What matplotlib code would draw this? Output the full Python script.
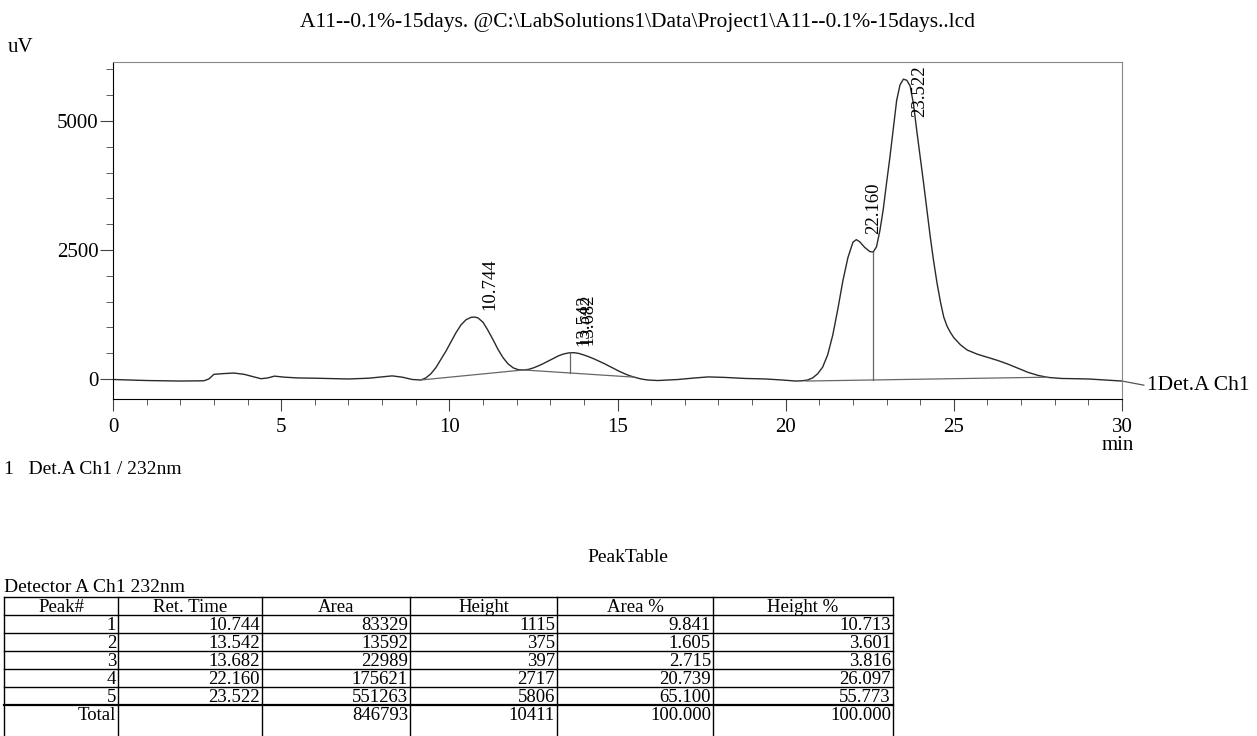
import numpy as np
import matplotlib.pyplot as plt
from matplotlib.ticker import MultipleLocator

plt.rcParams['font.family'] = ['Liberation Serif', 'DejaVu Serif']

# chromatogram trace (min, uV)
time_min = [0, 1, 2, 2.7, 2.85, 3.0, 3.3, 3.6, 3.9, 4.2, 4.4, 4.6, 4.8, 5.1, 5.5,
            6.0, 7.0, 7.6, 8.0, 8.3, 8.6, 8.9, 9.15, 9.3, 9.45, 9.6, 9.75, 9.9,
            10.05, 10.2, 10.35, 10.5, 10.65, 10.75, 10.85, 11.0, 11.15, 11.3,
            11.45, 11.6, 11.75, 11.9, 12.05, 12.2, 12.35, 12.5, 12.65, 12.8,
            12.95, 13.1, 13.25, 13.4, 13.55, 13.7, 13.85, 14.0, 14.15, 14.3,
            14.45, 14.6, 14.75, 14.9, 15.05, 15.2, 15.35, 15.5, 15.7, 15.9, 16.2,
            16.8, 17.3, 17.7, 18.2, 18.8, 19.4, 19.9, 20.3, 20.5, 20.65, 20.8,
            20.95, 21.1, 21.25, 21.4, 21.55, 21.7, 21.85, 22.0, 22.1, 22.2, 22.35,
            22.5, 22.6, 22.7, 22.8, 22.9, 23.0, 23.1, 23.2, 23.3, 23.4, 23.5,
            23.6, 23.7, 23.8, 23.9, 24.0, 24.1, 24.2, 24.3, 24.4, 24.5, 24.6,
            24.7, 24.8, 24.9, 25.0, 25.2, 25.4, 25.7, 26.0, 26.3, 26.6, 26.9,
            27.2, 27.5, 27.8, 28.2, 29.0, 30.0]
signal_uv = [-10, -30, -40, -35, 0, 90, 105, 115, 90, 40, 5, 20, 55, 35, 20,
             15, 0, 15, 40, 60, 35, -10, -20, 20, 100, 220, 380, 540,
             720, 900, 1050, 1150, 1195, 1200, 1185, 1100, 940, 760,
             570, 410, 290, 215, 180, 175, 185, 215, 255, 300,
             350, 400, 450, 485, 505, 510, 495, 465, 430, 390,
             345, 300, 250, 200, 150, 105, 65, 35, 0, -20, -30,
             -10, 20, 40, 30, 10, 0, -20, -40, -35, -20, 20,
             100, 230, 470, 850, 1350, 1900, 2350, 2650, 2700, 2660, 2550,
             2470, 2460, 2560, 2870, 3280, 3800, 4300, 4850, 5400, 5700, 5810,
             5790, 5680, 5330, 4800, 4300, 3800, 3280, 2750, 2280, 1860, 1500,
             1200, 1020, 900, 800, 660, 560, 480, 420, 360, 290, 210,
             130, 70, 30, 10, 0, -40]

# integration baselines and drop lines
base_t = [[9.15, 12.2], [12.2, 15.5], [20.6, 27.8]]
base_v = [[-20, 175], [175, 35], [-40, 35]]
drop_t = [13.59, 22.59]

# peak table
peak_no = ['1', '2', '3', '4', '5']
ret_time = [10.744, 13.542, 13.682, 22.160, 23.522]
area = [83329, 13592, 22989, 175621, 551263]
height = [1115, 375, 397, 2717, 5806]
area_pct = [9.841, 1.605, 2.715, 20.739, 65.100]
height_pct = [10.713, 3.601, 3.816, 26.097, 55.773]
totals = ['Total', '', '846793', '10411', '100.000', '100.000']
headers = ['Peak#', 'Ret. Time', 'Area', 'Height', 'Area %', 'Height %']

W, H = 1257, 736
fig = plt.figure(figsize=(W / 100, H / 100), dpi=100)


def fx(px):
    return px / W


def fy(py):
    return 1 - py / H


ax = fig.add_axes([fx(113), fy(399), fx(1122 - 113), (399 - 62) / H])
ymin, ymax = -388, 6143
ax.set_xlim(0, 30)
ax.set_ylim(ymin, ymax)

ax.plot(time_min, signal_uv, color='#2a2a2a', lw=1.0)
for bt, bv in zip(base_t, base_v):
    ax.plot(bt, bv, color='#666666', lw=0.9)
for t in drop_t:
    for bt, bv in zip(base_t, base_v):
        if bt[0] <= t <= bt[1]:
            b = np.interp(t, bt, bv)
    ax.plot([t, t], [b, np.interp(t, time_min, signal_uv)], color='#666666', lw=0.9)

# connector to channel label outside the box
ax.plot([30, 30.65], [signal_uv[-1], -120], color='#555555', lw=0.9, clip_on=False)
ax.text(30.75, -120, '1Det.A Ch1', fontsize=15.5, va='center', ha='left')

# peak retention time labels
for rt in ret_time:
    top = np.interp(rt, time_min, signal_uv)
    y = min(top + 140, ymax - 1070)
    ax.text(rt + 0.45, y, f'{rt:.3f}', rotation=90, fontsize=13.5,
            ha='center', va='bottom')

for s in ['top', 'right']:
    ax.spines[s].set_color('#888888')
for s in ['left', 'bottom']:
    ax.spines[s].set_color('black')

ax.xaxis.set_major_locator(MultipleLocator(5))
ax.xaxis.set_minor_locator(MultipleLocator(1))
ax.yaxis.set_minor_locator(MultipleLocator(500))
ax.set_yticks([0, 2500, 5000])
ax.tick_params(axis='x', which='major', direction='out', length=8.5, pad=5, labelsize=15)
ax.tick_params(axis='x', which='minor', direction='out', length=4.3)
ax.tick_params(axis='y', which='major', direction='out', length=9.5, pad=1, labelsize=15)
ax.tick_params(axis='y', which='minor', direction='out', length=5)
ax.tick_params(which='both', color='#444444')

fig.text(fx(638), fy(22), r'A11--0.1%-15days. @C:\LabSolutions1\Data\Project1\A11--0.1%-15days..lcd',
         fontsize=15.5, ha='center', va='center')
fig.text(fx(8), fy(47), 'uV', fontsize=15, ha='left', va='center')
fig.text(fx(1118), fy(446), 'min', fontsize=15, ha='center', va='center')
fig.text(fx(4), fy(470), '1   Det.A Ch1 / 232nm', fontsize=14, ha='left', va='center')
fig.text(fx(628), fy(558), 'PeakTable', fontsize=14, ha='center', va='center')
fig.text(fx(4), fy(588), 'Detector A Ch1 232nm', fontsize=14, ha='left', va='center')

# peak table drawn on a full-figure pixel axes
tab = fig.add_axes([0, 0, 1, 1])
tab.set_xlim(0, W)
tab.set_ylim(H, 0)
tab.axis('off')
col_x = [4, 118, 262, 410, 557, 713, 893]
row_y = [597, 615, 633, 651, 669, 687, 705]
for x in col_x:
    tab.plot([x, x], [row_y[0], H], color='black', lw=1)
for i, y in enumerate(row_y):
    tab.plot([col_x[0], col_x[-1]], [y, y], color='black', lw=1.6 if i == len(row_y) - 1 else 1)

for j, h in enumerate(headers):
    tab.text((col_x[j] + col_x[j + 1]) / 2, 607, h, fontsize=13.5, ha='center', va='center')

rows = []
for k in range(len(peak_no)):
    rows.append([peak_no[k], f'{ret_time[k]:.3f}', str(area[k]), str(height[k]),
                 f'{area_pct[k]:.3f}', f'{height_pct[k]:.3f}'])
rows.append(totals)
for i, r in enumerate(rows):
    yc = 625 + 18 * i
    for j, val in enumerate(r):
        tab.text(col_x[j + 1] - 2, yc, val, fontsize=13.5, ha='right', va='center')

fig.savefig('out.png', dpi=100)
